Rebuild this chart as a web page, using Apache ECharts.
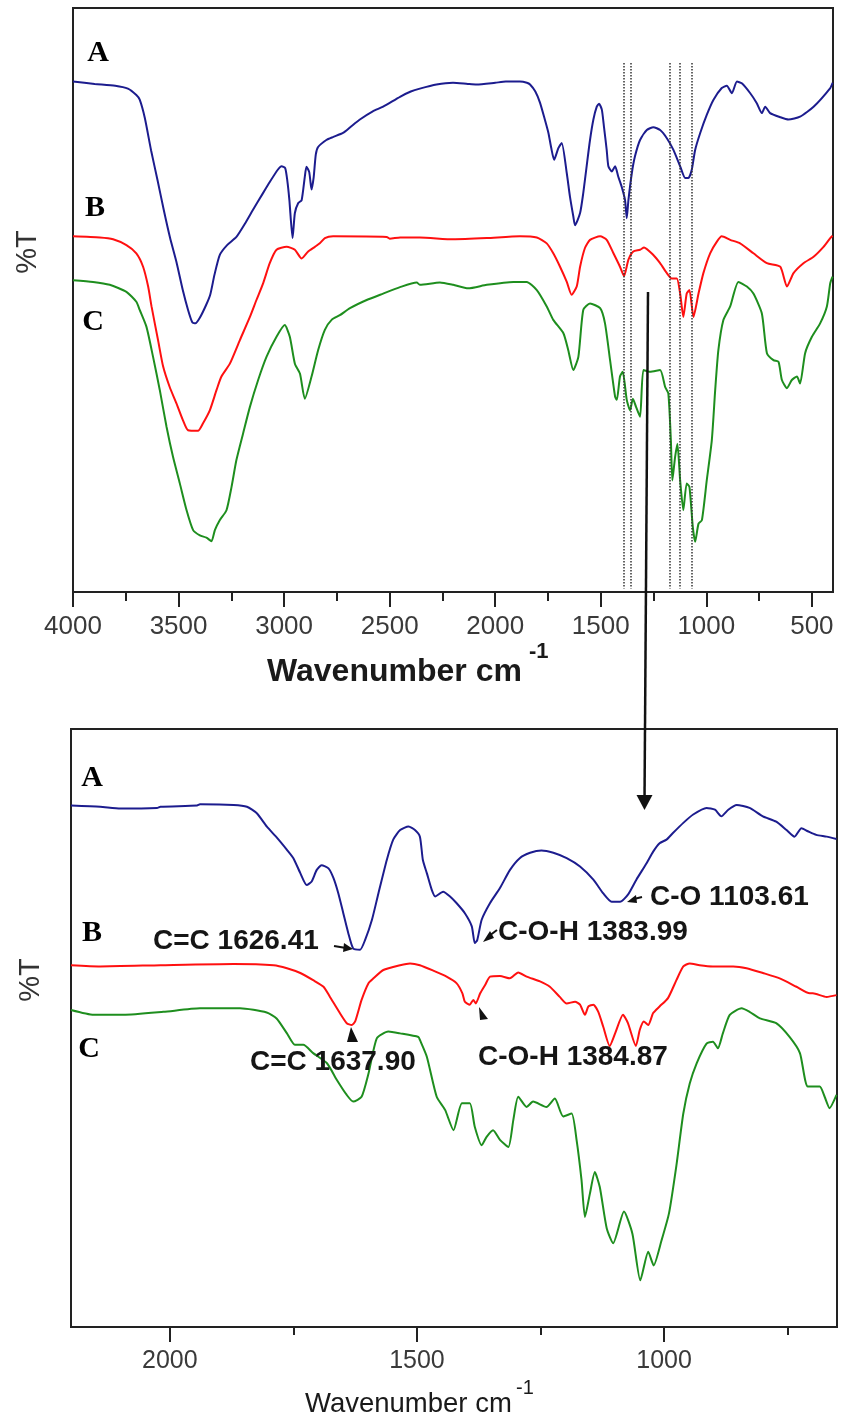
<!DOCTYPE html>
<html>
<head>
<meta charset="utf-8">
<script src="https://cdn.jsdelivr.net/npm/echarts@6/dist/echarts.min.js"></script>
<style>
html,body{margin:0;padding:0;background:#fff;}
#chart{width:843px;height:1420px;}
</style>
</head>
<body>
<div id="chart"></div>
<script>
// ---------- DATA (wavenumber cm-1, relative %T) ----------
const topTicks = [500, 1000, 1500, 2000, 2500, 3000, 3500, 4000];
const topMinorTicks = [750, 1250, 1750, 2250, 2750, 3250, 3750];
const botTicks = [1000, 1500, 2000];
const botMinorTicks = [750, 1250, 1750];
const dottedLines = [1390, 1358, 1175, 1128, 1069];

const topA = [[4000,87.4],[3897,87.0],[3800,86.7],[3740,86.2],[3700,85.1],[3684,84.3],[3660,81.2],[3630,75.6],[3600,70.6],[3570,65.4],[3540,60.6],[3510,56.5],[3480,51.7],[3455,48.3],[3435,46.2],[3420,46.0],[3400,46.9],[3370,49.1],[3350,50.9],[3330,54.3],[3305,57.7],[3270,59.4],[3226,60.8],[3180,63.4],[3148,65.4],[3100,68.3],[3068,70.2],[3030,72.3],[3012,72.9],[2995,72.6],[2985,70.5],[2975,67.1],[2960,60.6],[2949,64.9],[2933,66.6],[2917,67.1],[2902,71.1],[2894,72.8],[2881,71.9],[2870,68.9],[2860,71.0],[2850,74.9],[2839,76.2],[2800,77.4],[2769,77.9],[2721,78.6],[2680,79.8],[2641,80.9],[2580,82.3],[2531,83.1],[2451,84.8],[2400,85.7],[2357,86.2],[2278,86.9],[2200,87.2],[2130,87.0],[2088,86.9],[2000,87.2],[1950,87.4],[1883,87.4],[1850,87.2],[1835,86.9],[1810,85.7],[1788,83.8],[1765,80.9],[1748,78.6],[1735,76.1],[1721,74.0],[1701,76.0],[1685,76.9],[1661,71.7],[1646,67.7],[1630,64.3],[1622,62.8],[1598,64.9],[1583,68.3],[1567,72.9],[1551,77.4],[1535,80.9],[1519,83.1],[1508,83.6],[1495,82.6],[1485,79.7],[1472,75.7],[1464,72.9],[1448,72.0],[1432,72.9],[1417,71.1],[1401,69.4],[1385,67.1],[1377,64.0],[1369,67.1],[1353,71.7],[1338,74.6],[1314,77.4],[1282,79.1],[1251,79.6],[1219,79.1],[1187,77.7],[1156,75.7],[1124,72.9],[1100,70.9],[1085,70.9],[1069,72.3],[1053,75.7],[1029,78.6],[998,81.7],[966,84.3],[927,86.3],[903,86.7],[879,85.4],[855,87.4],[832,87.1],[792,85.4],[761,83.7],[737,82.0],[721,83.1],[698,82.0],[650,81.3],[611,80.9],[556,81.4],[492,83.1],[413,86.3],[402,87.2]];

const topB = [[4000,60.9],[3873,60.7],[3810,60.4],[3747,59.4],[3700,58.0],[3668,55.7],[3644,52.3],[3628,48.9],[3597,43.1],[3573,38.6],[3542,35.1],[3510,32.3],[3479,29.4],[3455,27.7],[3408,27.6],[3384,28.9],[3352,31.1],[3320,34.6],[3297,36.9],[3257,39.1],[3210,43.1],[3162,47.1],[3131,50.0],[3099,52.9],[3068,56.3],[3036,58.6],[2988,59.1],[2949,58.6],[2917,57.1],[2886,58.3],[2854,59.1],[2831,59.7],[2807,60.6],[2768,60.9],[2514,60.8],[2500,60.5],[2450,60.7],[2357,60.7],[2199,60.4],[2040,60.6],[1883,60.9],[1803,60.7],[1756,59.7],[1725,58.0],[1693,55.7],[1661,53.1],[1638,50.9],[1614,52.3],[1598,55.7],[1575,58.9],[1551,60.3],[1503,60.9],[1472,60.3],[1440,58.0],[1409,55.7],[1390,54.1],[1369,56.9],[1346,58.3],[1314,58.6],[1295,59.0],[1251,57.7],[1219,56.3],[1187,54.6],[1164,53.7],[1140,53.7],[1124,51.1],[1109,47.1],[1093,51.1],[1080,51.7],[1061,47.1],[1037,51.1],[1014,54.6],[982,58.0],[950,60.0],[927,60.9],[887,60.3],[840,59.7],[777,58.0],[713,56.3],[650,55.7],[618,52.3],[587,54.6],[540,56.3],[492,57.4],[445,59.1],[413,60.6],[402,61.0]];

const topC = [[4000,53.4],[3905,53.1],[3826,52.6],[3747,51.4],[3700,49.7],[3684,48.3],[3652,45.4],[3621,40.3],[3589,34.6],[3557,28.3],[3526,23.1],[3494,18.6],[3462,14.0],[3431,10.6],[3399,9.7],[3368,9.3],[3344,8.7],[3328,10.6],[3305,12.3],[3273,14.0],[3249,18.0],[3226,22.6],[3194,27.2],[3162,31.7],[3123,36.3],[3083,40.3],[3036,43.7],[2997,45.7],[2973,43.7],[2949,39.1],[2925,37.4],[2902,33.1],[2870,36.9],[2839,41.4],[2807,44.9],[2775,46.6],[2736,47.4],[2688,48.6],[2609,50.0],[2531,51.1],[2451,52.2],[2372,53.0],[2357,52.6],[2262,53.0],[2199,52.6],[2128,52.0],[2040,52.6],[1914,53.1],[1851,53.1],[1803,51.7],[1756,48.9],[1725,46.6],[1677,44.3],[1654,41.4],[1630,38.0],[1606,40.3],[1583,48.3],[1551,49.4],[1503,48.6],[1480,46.0],[1456,39.7],[1432,33.4],[1424,32.9],[1409,36.9],[1396,37.7],[1377,32.9],[1361,31.1],[1348,33.1],[1333,31.7],[1314,30.0],[1298,38.0],[1267,37.7],[1219,38.0],[1195,35.1],[1180,34.0],[1168,26.0],[1161,19.1],[1148,23.1],[1137,25.4],[1124,19.1],[1109,14.0],[1093,18.6],[1080,18.0],[1064,11.1],[1053,8.6],[1037,11.7],[1021,12.3],[998,19.1],[974,26.0],[958,34.6],[943,41.4],[919,46.6],[887,48.9],[848,53.1],[808,52.3],[777,51.1],[737,47.7],[713,40.9],[682,39.7],[658,39.4],[642,36.3],[618,34.9],[595,36.3],[571,36.9],[556,35.7],[532,40.9],[500,43.7],[461,46.0],[429,48.9],[413,52.9],[402,54.0]];

const botA = [[2200,87.2],[2141,87.0],[2100,86.7],[2026,86.8],[2019,87.0],[1945,87.2],[1939,87.4],[1871,87.3],[1844,87.0],[1824,85.9],[1804,83.7],[1783,81.8],[1763,79.8],[1750,78.4],[1736,75.9],[1723,73.9],[1713,74.5],[1703,76.4],[1693,77.2],[1679,76.7],[1669,75.1],[1659,72.5],[1649,69.2],[1639,65.9],[1629,63.3],[1615,63.1],[1605,64.7],[1591,68.1],[1578,72.5],[1561,78.1],[1548,81.5],[1534,83.1],[1517,83.7],[1504,83.1],[1494,82.0],[1488,78.1],[1480,75.9],[1470,73.1],[1463,72.0],[1447,72.8],[1433,72.0],[1420,70.9],[1403,69.2],[1389,67.0],[1383,64.2],[1378,64.7],[1369,68.1],[1352,70.9],[1332,73.4],[1312,76.4],[1292,78.4],[1271,79.3],[1248,79.7],[1224,79.3],[1197,78.4],[1170,77.0],[1143,74.8],[1123,72.5],[1106,71.1],[1089,71.1],[1073,72.3],[1056,74.8],[1035,77.6],[1022,79.5],[1009,80.9],[995,81.5],[982,82.6],[961,84.3],[941,85.7],[914,86.8],[897,86.5],[884,85.4],[870,86.5],[853,87.3],[827,86.8],[800,85.4],[773,84.5],[752,83.1],[736,82.0],[722,83.4],[709,82.9],[692,82.3],[671,82.0],[651,81.6]];

const botB = [[2200,60.5],[2141,60.3],[2019,60.5],[1871,60.7],[1790,60.5],[1763,60.0],[1736,59.2],[1710,58.0],[1689,56.9],[1676,55.2],[1656,52.5],[1642,50.8],[1632,50.5],[1625,51.1],[1612,54.7],[1598,57.5],[1588,58.3],[1568,59.7],[1534,60.5],[1514,60.8],[1494,60.5],[1467,59.6],[1440,58.6],[1420,57.5],[1408,55.8],[1403,54.4],[1393,53.9],[1386,54.7],[1381,54.1],[1372,55.8],[1362,57.2],[1352,58.6],[1332,58.7],[1312,58.3],[1295,59.3],[1278,58.6],[1251,57.8],[1231,56.9],[1211,55.2],[1197,54.1],[1180,54.4],[1170,53.9],[1160,52.2],[1153,53.6],[1143,53.9],[1133,52.7],[1123,50.2],[1110,47.0],[1099,49.1],[1083,52.2],[1073,50.8],[1057,47.0],[1049,49.7],[1041,51.1],[1032,50.5],[1022,52.5],[1009,53.6],[992,55.0],[975,58.0],[961,60.3],[948,60.8],[928,60.5],[901,60.3],[860,60.3],[833,60.0],[800,59.2],[766,58.3],[732,56.9],[705,55.8],[699,55.8],[671,55.2],[651,55.5]];

const botC = [[2200,53.0],[2154,52.2],[2094,52.2],[2013,52.7],[1939,53.3],[1858,53.3],[1804,52.6],[1784,51.6],[1763,49.1],[1747,47.2],[1730,47.2],[1710,45.8],[1682,44.1],[1662,41.3],[1642,38.8],[1629,37.7],[1612,38.5],[1598,42.4],[1581,48.3],[1558,49.4],[1534,49.1],[1497,48.5],[1494,48.0],[1480,45.2],[1460,38.5],[1443,36.3],[1426,32.9],[1409,37.4],[1393,37.4],[1383,33.5],[1369,30.4],[1359,31.8],[1346,32.9],[1332,31.3],[1315,30.1],[1305,34.6],[1295,38.5],[1278,36.8],[1265,37.7],[1238,36.8],[1221,38.2],[1204,35.2],[1187,35.7],[1177,31.3],[1167,24.6],[1160,18.4],[1150,22.3],[1140,25.9],[1130,23.4],[1116,16.5],[1103,14.0],[1081,19.3],[1064,15.6],[1048,7.8],[1032,12.6],[1021,10.3],[1005,14.5],[990,19.0],[975,27.0],[961,35.7],[948,40.7],[934,44.1],[914,47.4],[901,47.7],[891,46.6],[881,49.1],[867,52.2],[843,53.3],[827,52.7],[806,51.6],[773,50.8],[746,48.5],[725,45.8],[709,40.2],[685,40.2],[675,38.5],[665,36.6],[651,38.8]];

const seriesNames = ['A', 'B', 'C'];
const annotations = ['C=C 1626.41', 'C-O-H 1383.99', 'C-O 1103.61', 'C=C 1637.90', 'C-O-H 1384.87'];

// ---------- STYLE ----------
const colA = '#1c1c8e', colB = '#ff1010', colC = '#1e8e1e';
const frame = '#222';
const sans = '"Liberation Sans", Arial, sans-serif';
const serif = '"Liberation Serif", "Times New Roman", serif';

function lineSeries(name, data, color, xi, yi, extra) {
  return Object.assign({
    name: name, type: 'line', data: data, xAxisIndex: xi, yAxisIndex: yi,
    showSymbol: false, smooth: 0.2, clip: true,
    lineStyle: { color: color, width: 2 }, itemStyle: { color: color },
    silent: true, z: 3
  }, extra || {});
}

function mainX(grid, min, max, ticks, fontSize, margin) {
  return {
    gridIndex: grid, type: 'value', min: min, max: max, inverse: true,
    axisLine: { show: true, lineStyle: { color: frame, width: 2 } },
    axisTick: { show: true, inside: false, length: 15, customValues: ticks, lineStyle: { color: frame, width: 2 } },
    axisLabel: { show: true, customValues: ticks, fontSize: fontSize, color: '#3a3a3a', fontFamily: sans, margin: margin,
      formatter: function (v) { return String(v); } },
    splitLine: { show: false }
  };
}
function minorX(grid, min, max, ticks, len) {
  return {
    gridIndex: grid, type: 'value', min: min, max: max, inverse: true, position: 'bottom',
    axisLine: { show: false },
    axisTick: { show: true, inside: false, length: len, customValues: ticks, lineStyle: { color: frame, width: 2 } },
    axisLabel: { show: false }, splitLine: { show: false }
  };
}
function plainY(grid) {
  return {
    gridIndex: grid, type: 'value', min: 0, max: 100,
    axisLine: { show: false }, axisTick: { show: false }, axisLabel: { show: false }, splitLine: { show: false }
  };
}

function txt(s, x, y, font, fill, align, rot) {
  const el = { type: 'text', x: x, y: y, z: 10, silent: true,
    style: { text: s, x: 0, y: 0, font: font, fill: fill || '#111', textAlign: align || 'left', textVerticalAlign: 'middle' } };
  if (rot) el.rotation = rot;
  return el;
}

const chart = echarts.init(document.getElementById('chart'), null, { renderer: 'canvas' });

const graphics = [
  // panel letters
  txt(seriesNames[0], 98, 53, 'bold 30px ' + serif, '#000', 'center'),
  txt(seriesNames[1], 95, 208, 'bold 30px ' + serif, '#000', 'center'),
  txt(seriesNames[2], 93, 322, 'bold 30px ' + serif, '#000', 'center'),
  txt(seriesNames[0], 92, 778, 'bold 30px ' + serif, '#000', 'center'),
  txt(seriesNames[1], 92, 933, 'bold 30px ' + serif, '#000', 'center'),
  txt(seriesNames[2], 89, 1049, 'bold 30px ' + serif, '#000', 'center'),
  // y titles
  txt('%T', 28, 252, '29px ' + sans, '#333', 'center', Math.PI / 2),
  txt('%T', 31, 980, '29px ' + sans, '#333', 'center', Math.PI / 2),
  // x titles
  txt('Wavenumber cm', 267, 672, 'bold 32px ' + sans, '#1a1a1a', 'left'),
  txt('-1', 529, 652, 'bold 22px ' + sans, '#1a1a1a', 'left'),
  txt('Wavenumber cm', 305, 1404, '27.5px ' + sans, '#1a1a1a', 'left'),
  txt('-1', 516, 1388, '20px ' + sans, '#1a1a1a', 'left'),
  // annotations
  txt(annotations[0], 153, 941, 'bold 28px ' + sans, '#151515', 'left'),
  txt(annotations[1], 498, 932, 'bold 28px ' + sans, '#151515', 'left'),
  txt(annotations[2], 650, 897, 'bold 28px ' + sans, '#151515', 'left'),
  txt(annotations[3], 250, 1062, 'bold 28px ' + sans, '#151515', 'left'),
  txt(annotations[4], 478, 1057, 'bold 28px ' + sans, '#151515', 'left'),
  // small annotation arrows
  { type: 'line', silent: true, z: 10, shape: { x1: 334, y1: 946, x2: 346, y2: 948 }, style: { stroke: '#111', lineWidth: 2 } },
  { type: 'polygon', silent: true, z: 10, shape: { points: [[344, 943], [353, 949], [343, 952]] }, style: { fill: '#111' } },
  { type: 'line', silent: true, z: 10, shape: { x1: 497, y1: 930, x2: 489, y2: 936 }, style: { stroke: '#111', lineWidth: 2 } },
  { type: 'polygon', silent: true, z: 10, shape: { points: [[490, 931], [494, 938], [483, 942]] }, style: { fill: '#111' } },
  { type: 'line', silent: true, z: 10, shape: { x1: 642, y1: 897, x2: 634, y2: 899 }, style: { stroke: '#111', lineWidth: 2 } },
  { type: 'polygon', silent: true, z: 10, shape: { points: [[636, 895], [637, 903], [627, 902]] }, style: { fill: '#111' } },
  { type: 'polygon', silent: true, z: 10, shape: { points: [[351, 1027], [358, 1042], [347, 1042]] }, style: { fill: '#111' } },
  { type: 'polygon', silent: true, z: 10, shape: { points: [[479, 1007], [488, 1019], [480, 1020]] }, style: { fill: '#111' } },
  // big connecting arrow
  { type: 'line', silent: true, z: 10, shape: { x1: 648, y1: 292, x2: 644.5, y2: 800 }, style: { stroke: '#111', lineWidth: 2.5 } },
  { type: 'polygon', silent: true, z: 10, shape: { points: [[636.5, 795], [652.5, 795], [644.5, 810]] }, style: { fill: '#111' } }
];

const option = {
  animation: false,
  backgroundColor: '#ffffff',
  grid: [
    { left: 73, top: 8, width: 760, height: 584, show: true, borderColor: frame, borderWidth: 2, backgroundColor: 'transparent' },
    { left: 71, top: 729, width: 766, height: 598, show: true, borderColor: frame, borderWidth: 2, backgroundColor: 'transparent' }
  ],
  xAxis: [
    mainX(0, 400, 4000, topTicks, 26, 22),
    minorX(0, 400, 4000, topMinorTicks, 9),
    mainX(1, 650, 2200, botTicks, 25, 22),
    minorX(1, 650, 2200, botMinorTicks, 8)
  ],
  yAxis: [plainY(0), plainY(1)],
  series: [
    lineSeries('A', topA, colA, 0, 0, {
      markLine: {
        silent: true, symbol: ['none', 'none'], label: { show: false },
        lineStyle: { type: 'dotted', color: '#333', width: 1.5 },
        emphasis: { disabled: true },
        data: dottedLines.map(function (w) { return [{ coord: [w, 90.6] }, { coord: [w, 0.6] }]; })
      }
    }),
    lineSeries('B', topB, colB, 0, 0),
    lineSeries('C', topC, colC, 0, 0),
    lineSeries('A', botA, colA, 2, 1),
    lineSeries('B', botB, colB, 2, 1),
    lineSeries('C', botC, colC, 2, 1)
  ],
  graphic: graphics
};
chart.setOption(option);
</script>
</body>
</html>
